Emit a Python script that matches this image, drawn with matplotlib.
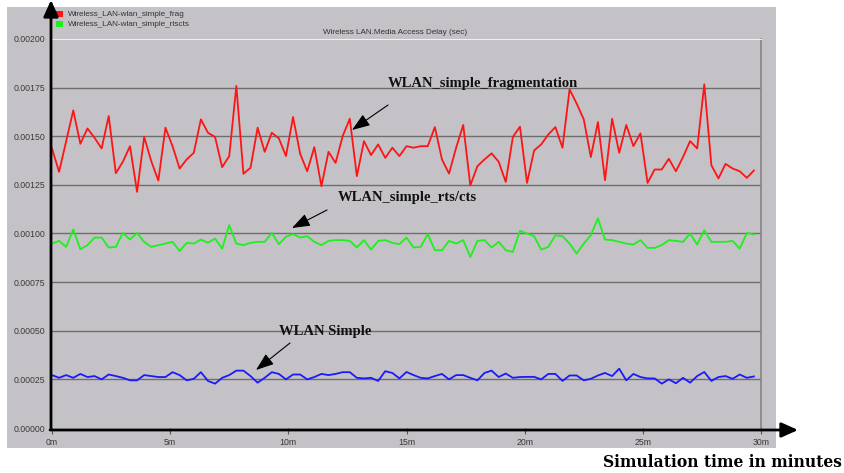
import numpy as np
import matplotlib
matplotlib.use('Agg')
import matplotlib.pyplot as plt
from matplotlib.patches import Rectangle

W, H = 844, 473

# sample times (minutes), one sample every 0.3 min
times = np.arange(100) * 0.3

# media access delay, seconds
frag = np.array([
    1.437, 1.317, 1.475, 1.633, 1.461, 1.540, 1.492, 1.437, 1.604, 1.310,
    1.369, 1.449, 1.214, 1.497, 1.372, 1.272, 1.544, 1.449, 1.334, 1.381,
    1.415, 1.587, 1.518, 1.496, 1.341, 1.398, 1.759, 1.307, 1.338, 1.544,
    1.420, 1.518, 1.489, 1.398, 1.599, 1.410, 1.320, 1.444, 1.243, 1.420,
    1.363, 1.501, 1.590, 1.295, 1.475, 1.403, 1.458, 1.389, 1.441, 1.398,
    1.449, 1.441, 1.449, 1.449, 1.547, 1.381, 1.308, 1.441, 1.558, 1.247,
    1.346, 1.381, 1.412, 1.369, 1.265, 1.496, 1.549, 1.260, 1.427, 1.458,
    1.509, 1.547, 1.441, 1.741, 1.668, 1.587, 1.393, 1.573, 1.274, 1.590,
    1.415, 1.558, 1.449, 1.515, 1.260, 1.329, 1.329, 1.384, 1.320, 1.393,
    1.475, 1.437, 1.767, 1.351, 1.283, 1.358, 1.334, 1.320, 1.286, 1.324]) * 1e-3

rtscts = np.array([
    0.948, 0.962, 0.931, 1.021, 0.919, 0.940, 0.979, 0.979, 0.928, 0.931,
    1.003, 0.969, 1.003, 0.957, 0.931, 0.940, 0.948, 0.957, 0.910, 0.952,
    0.948, 0.969, 0.952, 0.974, 0.922, 1.043, 0.948, 0.940, 0.952, 0.957,
    0.957, 1.003, 0.945, 0.983, 0.997, 0.979, 0.986, 0.957, 0.940, 0.962,
    0.966, 0.966, 0.962, 0.928, 0.966, 0.917, 0.962, 0.966, 0.952, 0.945,
    0.979, 0.928, 0.931, 0.997, 0.914, 0.914, 0.962, 0.948, 0.966, 0.879,
    0.962, 0.966, 0.928, 0.957, 0.914, 0.905, 1.014, 1.000, 0.986, 0.917,
    0.931, 0.991, 0.986, 0.948, 0.897, 0.948, 0.991, 1.078, 0.969, 0.966,
    0.957, 0.948, 0.943, 0.966, 0.926, 0.926, 0.940, 0.966, 0.962, 0.957,
    1.000, 0.943, 1.017, 0.957, 0.957, 0.957, 0.962, 0.922, 1.003, 0.995]) * 1e-3

simple = np.array([
    0.272, 0.258, 0.272, 0.258, 0.278, 0.262, 0.267, 0.250, 0.275, 0.267,
    0.258, 0.245, 0.245, 0.272, 0.267, 0.262, 0.262, 0.287, 0.272, 0.245,
    0.253, 0.287, 0.242, 0.228, 0.258, 0.272, 0.295, 0.295, 0.267, 0.233,
    0.258, 0.287, 0.278, 0.250, 0.275, 0.275, 0.250, 0.262, 0.278, 0.272,
    0.278, 0.287, 0.287, 0.258, 0.255, 0.258, 0.242, 0.292, 0.283, 0.255,
    0.288, 0.272, 0.258, 0.255, 0.267, 0.278, 0.250, 0.272, 0.272, 0.258,
    0.245, 0.283, 0.295, 0.262, 0.280, 0.258, 0.262, 0.263, 0.263, 0.250,
    0.278, 0.278, 0.242, 0.270, 0.270, 0.245, 0.253, 0.270, 0.283, 0.267,
    0.305, 0.245, 0.278, 0.262, 0.255, 0.255, 0.228, 0.250, 0.230, 0.258,
    0.233, 0.267, 0.288, 0.242, 0.262, 0.267, 0.253, 0.275, 0.258, 0.265]) * 1e-3

yticks = [0.0, 0.00025, 0.0005, 0.00075, 0.001, 0.00125, 0.0015, 0.00175, 0.002]
xticks = [0, 5, 10, 15, 20, 25, 30]
legend_names = ['Wireless_LAN-wlan_simple_frag', 'Wireless_LAN-wlan_simple_rtscts']

panel = '#c4c2c6'
ui_font = ['Liberation Sans', 'DejaVu Sans']
serif = ['Liberation Serif', 'DejaVu Serif']


def fx(px):
    return px / W


def fy(py):
    return 1 - py / H


fig = plt.figure(figsize=(W / 100, H / 100), dpi=100)
fig.patch.set_facecolor('white')

# grey chart panel
fig.add_artist(Rectangle((fx(7), fy(448)), fx(776) - fx(7), fy(7) - fy(448),
                         transform=fig.transFigure, facecolor=panel,
                         edgecolor='none', zorder=0))

ax = fig.add_axes([fx(52), fy(428), fx(761) - fx(52), fy(39) - fy(428)])
ax.set_facecolor(panel)
ax.set_xlim(0, 30)
ax.set_ylim(0, 0.002)

for y in yticks[1:-1]:
    ax.axhline(y, color='#6e6e6e', lw=1.0, zorder=1)

ax.plot(times, frag, color='#ff1414', lw=1.3, zorder=3)
ax.plot(times, rtscts, color='#1ef01e', lw=1.3, zorder=3)
ax.plot(times, simple, color='#1a1aff', lw=1.3, zorder=3)

for side in ['left', 'bottom']:
    ax.spines[side].set_visible(False)
ax.spines['top'].set_color('#f0f0f0')
ax.spines['right'].set_color('#858585')
ax.spines['right'].set_linewidth(1.2)

ax.set_yticks(yticks)
ax.set_yticklabels(['%.5f' % v for v in yticks], fontsize=6.3, color='#3a3a3a',
                   family=ui_font)
ax.set_xticks(xticks)
ax.set_xticklabels(['%dm' % v for v in xticks], fontsize=6.3, color='#3a3a3a',
                   family=ui_font)
ax.tick_params(axis='y', length=0, pad=5)
ax.tick_params(axis='x', length=4, color='#555555', pad=3)

# chart title and legend
fig.text(fx(323), fy(33), 'Wireless LAN.Media Access Delay (sec)', fontsize=5.9,
         color='#333333', family=ui_font, va='center')
for i, (name, c) in enumerate(zip(legend_names, ['#ff1414', '#1ef01e'])):
    yc = 14.5 + 9.5 * i
    fig.add_artist(Rectangle((fx(56), fy(yc + 3)), fx(7), fy(0) - fy(6),
                             transform=fig.transFigure, facecolor=c,
                             edgecolor='none', zorder=2))
    fig.text(fx(68), fy(yc), name, fontsize=5.9, color='#333333',
             family=ui_font, va='center')

# black axis arrows
arrow = dict(arrowstyle='-|>,head_length=1.0,head_width=0.45', color='black',
             lw=2.0, shrinkA=0, shrinkB=0)
fig.add_artist(plt.Annotation('', xy=(fx(51), fy(0)), xytext=(fx(51), fy(429)),
                              xycoords='figure fraction', arrowprops=arrow))
fig.add_artist(plt.Annotation('', xy=(fx(798), fy(430)), xytext=(fx(50), fy(430)),
                              xycoords='figure fraction', arrowprops=arrow))

# series annotations
thin = dict(arrowstyle='-|>,head_length=1.1,head_width=0.4', color='black',
            lw=0.8, shrinkA=0, shrinkB=0)
notes = [('WLAN_simple_fragmentation', (388, 84), (388, 105), (352, 130)),
         ('WLAN_simple_rts/cts', (338, 197), (327, 210), (292, 228)),
         ('WLAN Simple', (279, 331), (290, 343), (256, 370))]
for text, (tx, ty), tail, head in notes:
    fig.text(fx(tx), fy(ty), text, fontsize=10.5, fontweight='bold',
             family=serif, va='center', color='#111111')
    fig.add_artist(plt.Annotation('', xy=(fx(head[0]), fy(head[1])),
                                  xytext=(fx(tail[0]), fy(tail[1])),
                                  xycoords='figure fraction', arrowprops=thin))

fig.text(fx(603), fy(462), 'Simulation time in minutes', fontsize=11.2,
         fontweight='bold', family=['DejaVu Serif'], va='center')

fig.savefig('out.png', dpi=100)
